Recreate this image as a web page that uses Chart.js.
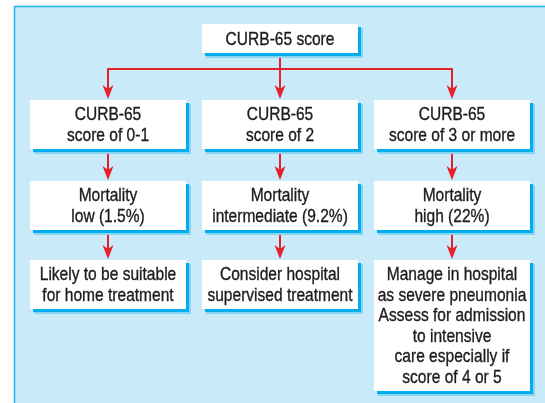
<!DOCTYPE html>
<html>
<head>
<meta charset="utf-8">
<script src="https://cdn.jsdelivr.net/npm/chart.js@4/dist/chart.umd.min.js"></script>
<style>
  html, body { margin: 0; padding: 0; background: #ffffff; }
  #wrap { width: 545px; height: 403px; }
</style>
</head>
<body>
<div id="wrap"><canvas id="c" width="545" height="403"></canvas></div>
<script>
// ---- data (text content of the flowchart) ----
const rootLabel = ["CURB-65 score"];
const categories = ["CURB-65\nscore of 0-1", "CURB-65\nscore of 2", "CURB-65\nscore of 3 or more"];
const mortality = ["Mortality\nlow (1.5%)", "Mortality\nintermediate (9.2%)", "Mortality\nhigh (22%)"];
const actions = [
  "Likely to be suitable\nfor home treatment",
  "Consider hospital\nsupervised treatment",
  "Manage in hospital\nas severe pneumonia\nAssess for admission\nto intensive\ncare especially if\nscore of 4 or 5"
];

// ---- layout (positions / sizes, in scale units = px) ----
const colX = [108, 280, 452];
const boxW = 156;
const rootBox = { x: 280, top: 24, bottom: 53 };
const rowTops = [100, 181, 260];
const rowBottoms = [[149, 149, 149], [230, 230, 230], [309, 309, 391]];
const branchY = 69;

const FONT = '18.5px "Liberation Sans", Arial, sans-serif';
const NARROW = 0.84;
const LINE_H = 20.5;
const RED = '#e5202a';
const SHADOW = '#00aeef';
const TEXT = '#1f1b1c';

// node centers as data points (invisible), boxes drawn around them by plugin
const nodes = [];
nodes.push({ x: rootBox.x, y: (rootBox.top + rootBox.bottom) / 2, text: rootLabel[0], top: rootBox.top, bottom: rootBox.bottom });
const rows = [categories, mortality, actions];
rows.forEach((row, r) => row.forEach((t, c) => {
  nodes.push({ x: colX[c], y: (rowTops[r] + rowBottoms[r][c]) / 2, text: t, top: rowTops[r], bottom: rowBottoms[r][c] });
}));

const flowPlugin = {
  id: 'flow',
  beforeDatasetsDraw(chart) {
    const ctx = chart.ctx;
    const xs = chart.scales.x, ys = chart.scales.y;
    const px = v => xs.getPixelForValue(v);
    const py = v => ys.getPixelForValue(v);

    // frame
    ctx.save();
    ctx.fillStyle = '#c8eaf9';
    ctx.fillRect(px(14), py(6), px(560) - px(14), py(420) - py(6));
    ctx.strokeStyle = '#1fb3ec';
    ctx.lineWidth = 1.5;
    ctx.beginPath();
    ctx.moveTo(px(14.5), py(420));
    ctx.lineTo(px(14.5), py(6.5));
    ctx.lineTo(px(560), py(6.5));
    ctx.stroke();

    // connectors
    ctx.strokeStyle = RED;
    ctx.fillStyle = RED;
    ctx.lineWidth = 2;
    const arrowHead = (x, tipY) => {
      ctx.beginPath();
      ctx.moveTo(px(x), py(tipY));
      ctx.lineTo(px(x - 5.5), py(tipY - 14));
      ctx.lineTo(px(x), py(tipY - 10));
      ctx.lineTo(px(x + 5.5), py(tipY - 14));
      ctx.closePath();
      ctx.fill();
    };
    const vline = (x, y1, y2) => {
      ctx.beginPath();
      ctx.moveTo(px(x), py(y1));
      ctx.lineTo(px(x), py(y2));
      ctx.stroke();
    };
    vline(rootBox.x, rootBox.bottom, branchY);
    ctx.beginPath();
    ctx.moveTo(px(colX[0]), py(branchY));
    ctx.lineTo(px(colX[2]), py(branchY));
    ctx.stroke();
    colX.forEach((x, c) => {
      vline(x, branchY - 1, rowTops[0] - 8);
      arrowHead(x, rowTops[0] - 1);
      for (let r = 0; r < 2; r++) {
        vline(x, rowBottoms[r][c], rowTops[r + 1] - 8);
        arrowHead(x, rowTops[r + 1] - 1);
      }
    });

    // boxes
    nodes.forEach(n => {
      const l = px(n.x - boxW / 2), r = px(n.x + boxW / 2);
      const t = py(n.top), b = py(n.bottom);
      ctx.fillStyle = '#86d5f3';
      ctx.fillRect(l + 4, t + 4, r - l + 1, b - t + 1);
      ctx.fillStyle = SHADOW;
      ctx.fillRect(l + 3, t + 3, r - l, b - t);
      ctx.fillStyle = '#ffffff';
      ctx.fillRect(l, t, r - l, b - t);

      ctx.fillStyle = TEXT;
      ctx.strokeStyle = TEXT;
      ctx.lineWidth = 0.35;
      ctx.font = FONT;
      ctx.textAlign = 'center';
      ctx.textBaseline = 'middle';
      const lines = n.text.split('\n');
      const cy = py(n.y) + 1;
      lines.forEach((ln, i) => {
        const y = cy + (i - (lines.length - 1) / 2) * LINE_H;
        ctx.save();
        ctx.translate(px(n.x), y);
        ctx.scale(NARROW, 1);
        ctx.fillText(ln, 0, 0);
        ctx.strokeText(ln, 0, 0);
        ctx.restore();
      });
    });
    ctx.restore();
  }
};

new Chart(document.getElementById('c'), {
  type: 'scatter',
  data: {
    datasets: [{
      data: nodes.map(n => ({ x: n.x, y: n.y })),
      pointRadius: 0,
      pointHoverRadius: 0
    }]
  },
  options: {
    responsive: false,
    animation: false,
    events: [],
    layout: { padding: 0 },
    plugins: { legend: { display: false }, tooltip: { enabled: false } },
    scales: {
      x: { type: 'linear', min: 0, max: 545, display: false },
      y: { type: 'linear', min: 0, max: 403, reverse: true, display: false }
    }
  },
  plugins: [flowPlugin]
});
</script>
</body>
</html>
